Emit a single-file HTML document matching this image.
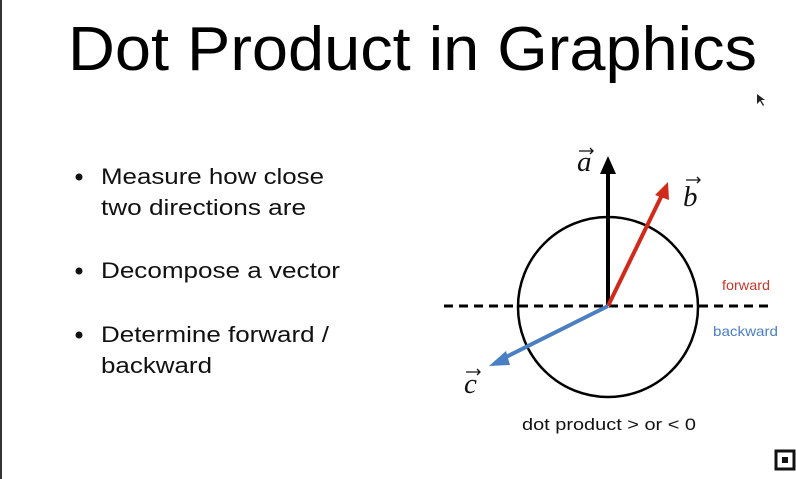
<!DOCTYPE html>
<html><head><meta charset="utf-8"><style>
html,body{margin:0;padding:0;background:#fff;}
svg{display:block;}
</style></head><body>
<svg width="796" height="479" viewBox="0 0 796 479" xmlns="http://www.w3.org/2000/svg" font-family="Liberation Sans, sans-serif">
<rect width="796" height="479" fill="#fff"/>
<rect x="0" y="0" width="2" height="479" fill="#333"/>
<text x="68" y="70" font-size="62" textLength="689" lengthAdjust="spacingAndGlyphs" fill="#000">Dot Product in Graphics</text>
<g font-size="22.5" fill="#111">
<circle cx="79" cy="177" r="3.5"/>
<text x="101" y="184" textLength="223" lengthAdjust="spacingAndGlyphs">Measure how close</text>
<text x="101" y="215" textLength="205" lengthAdjust="spacingAndGlyphs">two directions are</text>
<circle cx="79" cy="271" r="3.5"/>
<text x="101" y="278" textLength="239" lengthAdjust="spacingAndGlyphs">Decompose a vector</text>
<circle cx="79" cy="335" r="3.5"/>
<text x="101" y="342" textLength="228" lengthAdjust="spacingAndGlyphs">Determine forward /</text>
<text x="101" y="373" textLength="111" lengthAdjust="spacingAndGlyphs">backward</text>
</g>
<circle cx="608" cy="307" r="90" fill="none" stroke="#000" stroke-width="2.5"/>
<line x1="444" y1="306" x2="774" y2="306" stroke="#000" stroke-width="3" stroke-dasharray="9,6"/>
<line x1="608" y1="306" x2="608" y2="170" stroke="#000" stroke-width="4"/>
<polygon points="608,156 600,174 616,174" fill="#000"/>
<line x1="608" y1="306" x2="662" y2="195" stroke="#d02a1a" stroke-width="4"/>
<polygon points="668,182 655,195 669,200" fill="#d02a1a"/>
<line x1="608" y1="306" x2="502" y2="359" stroke="#4a7fc4" stroke-width="4"/>
<polygon points="489,366 506,351 510,365" fill="#4a7fc4"/>
<g font-family="Liberation Serif, serif" font-style="italic" font-size="29" fill="#111">
<text x="577" y="171">a</text>
<text x="683" y="206">b</text>
<text x="464" y="393">c</text>
</g>
<g stroke="#111" stroke-width="1.3" fill="none">
<path d="M579 151 h14 m-3 -3 l3 3 l-3 3"/>
<path d="M686 180 h14 m-3 -3 l3 3 l-3 3"/>
<path d="M466 372 h14 m-3 -3 l3 3 l-3 3"/>
</g>
<text x="722" y="290" font-size="14" fill="#c8392b" textLength="48" lengthAdjust="spacingAndGlyphs">forward</text>
<text x="713" y="336" font-size="14" fill="#4a7fc4" textLength="65" lengthAdjust="spacingAndGlyphs">backward</text>
<text x="522" y="430" font-size="17" fill="#111" textLength="174" lengthAdjust="spacingAndGlyphs">dot product &gt; or &lt; 0</text>
<path d="M757 94 l0 10 l3 -3 l3 5 l1 -1 l-3 -5 l4 0 z" fill="#222"/>
<rect x="776" y="451" width="18" height="18" fill="none" stroke="#111" stroke-width="3"/>
<rect x="782" y="457" width="6" height="6" fill="#111"/>
</svg>
</body></html>
